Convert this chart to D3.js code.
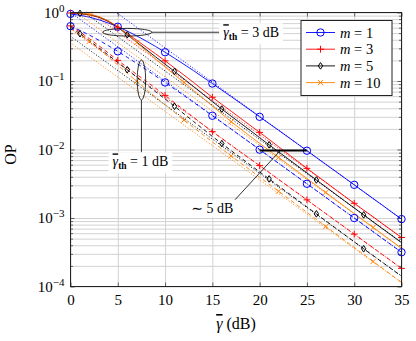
<!DOCTYPE html>
<html>
<head>
<meta charset="utf-8">
<script src="https://cdn.jsdelivr.net/npm/d3@7"></script>
<style>
  body { margin: 0; background: #fff; }
  svg { display: block; }
  text { fill: #000; }
</style>
</head>
<body>
<svg id="chart"></svg>
<script>
const width = 416;
const height = 341;

// average SNR grid (dB)
const snrDb = [0, 1, 2, 3, 4, 5, 6, 7, 8, 9, 10, 11, 12, 13, 14, 15, 16, 17,
    18, 19, 20, 21, 22, 23, 24, 25, 26, 27, 28, 29, 30, 31, 32, 33, 34, 35];

// outage probability, gamma_th = 3 dB (solid)
const opM1Th3 = [0.953, 0.911, 0.854, 0.783, 0.703, 0.619, 0.535, 0.456, 0.383, 0.319,
    0.263, 0.215, 0.175, 0.142, 0.114, 0.0919, 0.0737, 0.0590, 0.0472, 0.0377,
    0.0300, 0.0239, 0.0191, 0.0152, 0.0121, 0.00960, 0.00763, 0.00606, 0.00483, 0.00384,
    0.00305, 0.00242, 0.00192, 0.00153, 0.00121, 0.000964];
const opM3Th3 = [0.982, 0.959, 0.923, 0.851, 0.741, 0.610, 0.493, 0.394, 0.313, 0.249,
    0.197, 0.155, 0.122, 0.0955, 0.0741, 0.0579, 0.0457, 0.0361, 0.0285, 0.0225,
    0.0178, 0.0140, 0.0110, 0.00861, 0.00676, 0.00531, 0.00420, 0.00332, 0.00262, 0.00207,
    0.00164, 0.00130, 0.00104, 0.000822, 0.000653, 0.000519];
const opM5Th3 = [0.989, 0.971, 0.933, 0.861, 0.750, 0.610, 0.473, 0.370, 0.288, 0.225,
    0.176, 0.138, 0.107, 0.0832, 0.0646, 0.0501, 0.0389, 0.0306, 0.0241, 0.0190,
    0.0149, 0.0117, 0.00927, 0.00731, 0.00577, 0.00455, 0.00359, 0.00284, 0.00224, 0.00177,
    0.00140, 0.00111, 0.000877, 0.000695, 0.000551, 0.000437];
const opM10Th3 = [0.991, 0.977, 0.944, 0.871, 0.759, 0.624, 0.484, 0.363, 0.275, 0.209,
    0.160, 0.123, 0.0955, 0.0733, 0.0562, 0.0432, 0.0331, 0.0254, 0.0199, 0.0156,
    0.0123, 0.00971, 0.00767, 0.00605, 0.00479, 0.00378, 0.00298, 0.00236, 0.00186, 0.00147,
    0.00116, 0.000920, 0.000728, 0.000575, 0.000455, 0.000360];

// outage probability, gamma_th = 1 dB (dashed)
const opM1Th1 = [0.632, 0.548, 0.468, 0.394, 0.328, 0.271, 0.222, 0.181, 0.1466, 0.1183,
    0.0952, 0.0764, 0.0612, 0.0489, 0.0390, 0.0311, 0.0248, 0.0198, 0.0157, 0.0125,
    0.00995, 0.00791, 0.00629, 0.00500, 0.00398, 0.00316, 0.00251, 0.00200, 0.00158, 0.00126,
    0.00100, 0.000794, 0.000631, 0.000501, 0.000398, 0.000316];
const opM3Th1 = [0.638, 0.519, 0.414, 0.327, 0.257, 0.200, 0.158, 0.125, 0.0991, 0.0783,
    0.0617, 0.0483, 0.0378, 0.0296, 0.0232, 0.0182, 0.0145, 0.0115, 0.00912, 0.00729,
    0.00582, 0.00462, 0.00367, 0.00292, 0.00232, 0.00184, 0.00146, 0.00116, 0.000923, 0.000733,
    0.000582, 0.000462, 0.000367, 0.000292, 0.000232, 0.000184];
const opM5Th1 = [0.610, 0.490, 0.387, 0.305, 0.239, 0.187, 0.146, 0.114, 0.0893, 0.0698,
    0.0546, 0.0427, 0.0331, 0.0257, 0.0200, 0.0155, 0.0122, 0.00959, 0.00757, 0.00597,
    0.00471, 0.00372, 0.00294, 0.00232, 0.00184, 0.00145, 0.00115, 0.000908, 0.000718, 0.000568,
    0.000449, 0.000355, 0.000282, 0.000224, 0.000178, 0.000141];
const opM10Th1 = [0.589, 0.476, 0.380, 0.292, 0.224, 0.171, 0.130, 0.0989, 0.0759, 0.0583,
    0.0450, 0.0348, 0.0269, 0.0210, 0.0165, 0.0129, 0.0102, 0.00804, 0.00634, 0.00501,
    0.00395, 0.00312, 0.00246, 0.00194, 0.00153, 0.00121, 0.000953, 0.000752, 0.000594, 0.000470,
    0.000372, 0.000294, 0.000232, 0.000184, 0.000145, 0.000115];

// high-SNR asymptotes (dotted), values at 0 dB and 35 dB
const asymDb = [0, 35];
const asymM1Th3 = [3.05, 0.000964];
const asymM3Th3 = [1.64, 0.000519];
const asymM5Th3 = [1.40, 0.000443];
const asymM10Th3 = [1.15, 0.000364];
const asymM1Th1 = [1.00, 0.000316];
const asymM3Th1 = [0.58, 0.000183];
const asymM5Th1 = [0.45, 0.000142];
const asymM10Th1 = [0.36, 0.000114];

const mValues = [1, 3, 5, 10];
const xTicks = [0, 5, 10, 15, 20, 25, 30, 35];
const yDecades = [1, 0.1, 0.01, 0.001, 0.0001];
const yExponents = ["0", "\u22121", "\u22122", "\u22123", "\u22124"];

const styles = [
    {color: "#0000ff", mark: "circle", phase: 0},
    {color: "#ff0000", mark: "plus", phase: 0},
    {color: "#000000", mark: "diamond", phase: 1},
    {color: "#ff8000", mark: "cross", phase: 2}
];
const solidData = [opM1Th3, opM3Th3, opM5Th3, opM10Th3];
const dashedData = [opM1Th1, opM3Th1, opM5Th1, opM10Th1];
const asymSolid = [asymM1Th3, asymM3Th3, asymM5Th3, asymM10Th3];
const asymDashed = [asymM1Th1, asymM3Th1, asymM5Th1, asymM10Th1];

const pLeft = 70.5, pRight = 401.5, pTop = 12.5, pBottom = 286.5;
const serif = "'Liberation Serif', 'DejaVu Serif'";

const x = d3.scaleLinear().domain([0, 35]).range([pLeft, pRight]);
const y = d3.scaleLog().domain([1e-4, 1]).range([pBottom, pTop]);

const svg = d3.select("#chart")
    .attr("width", width)
    .attr("height", height)
    .attr("font-family", serif);

svg.append("defs").append("clipPath").attr("id", "plotClip")
    .append("rect")
    .attr("x", pLeft).attr("y", pTop)
    .attr("width", pRight - pLeft).attr("height", pBottom - pTop);

// grid
svg.append("g")
    .attr("transform", `translate(0,${pBottom})`)
    .call(d3.axisBottom(x).tickValues(xTicks).tickSize(-(pBottom - pTop)).tickFormat(""))
    .call(g => g.select(".domain").remove())
    .selectAll("line").attr("stroke", "#d2d2d2").attr("stroke-width", 1);

svg.append("g")
    .attr("transform", `translate(${pLeft},0)`)
    .call(d3.axisLeft(y).tickValues(y.ticks()).tickSize(-(pRight - pLeft)).tickFormat(""))
    .call(g => g.select(".domain").remove())
    .selectAll("line").attr("stroke", "#d2d2d2").attr("stroke-width", 1);

// small ticks inside the frame
[[d3.axisBottom(x), pBottom], [d3.axisTop(x), pTop]].forEach(([ax, py]) => {
    svg.append("g").attr("transform", `translate(0,${py})`)
        .call(ax.tickValues(xTicks).tickSize(-4).tickFormat(""))
        .call(g => g.select(".domain").remove())
        .selectAll("line").attr("stroke", "#444").attr("stroke-width", 0.8);
});
[[d3.axisLeft(y), pLeft, 1], [d3.axisRight(y), pRight, -1]].forEach(([ax, px, dir]) => {
    svg.append("g").attr("transform", `translate(${px},0)`)
        .call(ax.tickValues(y.ticks()).tickSize(-2.5).tickFormat(""))
        .call(g => g.select(".domain").remove())
        .selectAll("line")
        .attr("stroke", "#444").attr("stroke-width", 0.8)
        .attr("x2", d => dir * (Math.abs(Math.log10(d) - Math.round(Math.log10(d))) < 1e-6 ? 4 : 2.5));
});

// x tick labels
svg.append("g")
    .attr("transform", `translate(0,${pBottom})`)
    .call(d3.axisBottom(x).tickValues(xTicks).tickSize(0).tickPadding(8))
    .attr("font-family", serif)
    .attr("font-size", 15)
    .call(g => g.select(".domain").remove());

// y tick labels 10^k
const yLab = svg.append("g");
yDecades.forEach((v, i) => {
    const t = yLab.append("text")
        .attr("x", pLeft - 6)
        .attr("y", y(v) + 5)
        .attr("text-anchor", "end")
        .attr("font-size", 15);
    t.append("tspan").text("10");
    t.append("tspan").attr("dy", -6).attr("font-size", 11).text(yExponents[i]);
});

// axis titles
const xt = svg.append("text")
    .attr("x", (pLeft + pRight) / 2)
    .attr("y", 329)
    .attr("text-anchor", "middle")
    .attr("font-size", 16);
xt.append("tspan").style("text-decoration", "overline").style("font-style", "italic").text("\u03b3");
xt.append("tspan").text(" (dB)");

svg.append("text")
    .attr("transform", `translate(16,${(pTop + pBottom) / 2 + 5}) rotate(-90)`)
    .attr("text-anchor", "middle")
    .attr("font-size", 16)
    .text("OP");

// curves
const plot = svg.append("g").attr("clip-path", "url(#plotClip)");
const line = d3.line().x(d => x(d[0])).y(d => y(d[1]));

styles.forEach((s, i) => {
    [asymSolid[i], asymDashed[i]].forEach(a => {
        plot.append("path")
            .datum(asymDb.map((d, k) => [d, a[k]]))
            .attr("d", line)
            .attr("fill", "none")
            .attr("stroke", s.color)
            .attr("stroke-width", 0.9)
            .attr("stroke-linecap", "round")
            .attr("stroke-dasharray", "0.3,2.6");
    });
});

function drawMark(g, type, cx, cy, color) {
    if (type === "circle") {
        g.append("circle").attr("cx", cx).attr("cy", cy).attr("r", 3.7)
            .attr("fill", "none").attr("stroke", color).attr("stroke-width", 1);
    } else if (type === "plus") {
        g.append("path").attr("d", `M${cx - 3.4},${cy}h6.8M${cx},${cy - 3.4}v6.8`)
            .attr("stroke", color).attr("stroke-width", 1);
    } else if (type === "diamond") {
        g.append("path").attr("d", `M${cx},${cy - 3.3}L${cx + 2.2},${cy}L${cx},${cy + 3.3}L${cx - 2.2},${cy}Z`)
            .attr("fill", "none").attr("stroke", color).attr("stroke-width", 1);
    } else {
        g.append("path").attr("d", `M${cx - 2.6},${cy - 2.6}l5.2,5.2M${cx - 2.6},${cy + 2.6}l5.2,-5.2`)
            .attr("stroke", color).attr("stroke-width", 1);
    }
}

styles.forEach((s, i) => {
    [[solidData[i], null], [dashedData[i], "4,3"]].forEach(([vals, dash]) => {
        const pts = snrDb.map((d, k) => [d, vals[k]]);
        plot.append("path")
            .datum(pts)
            .attr("d", line)
            .attr("fill", "none")
            .attr("stroke", s.color)
            .attr("stroke-width", 0.9)
            .attr("stroke-dasharray", dash);
        pts.filter((p, k) => (k - s.phase) % 5 === 0 && k >= s.phase)
            .forEach(p => drawMark(svg, s.mark, x(p[0]), y(p[1]), s.color));
    });
});

// frame
svg.append("rect")
    .attr("x", pLeft).attr("y", pTop)
    .attr("width", pRight - pLeft).attr("height", pBottom - pTop)
    .attr("fill", "none").attr("stroke", "#222").attr("stroke-width", 1);

// annotations
const ann = svg.append("g").attr("fill", "none").attr("stroke", "#000").attr("stroke-width", 0.8);

function gammaLabel(cx, cy, value) {
    const t = svg.append("text").attr("x", cx).attr("y", cy + 5)
        .attr("text-anchor", "middle").attr("font-size", 14);
    t.append("tspan").style("text-decoration", "overline").style("font-style", "italic").text("\u03b3");
    t.append("tspan").attr("dy", 3).attr("font-size", 9.5).attr("font-weight", "bold").text("th");
    t.append("tspan").attr("dy", -3).text(` = ${value} dB`);
    const bb = t.node().getBBox();
    svg.insert("rect", () => t.node())
        .attr("x", bb.x - 4).attr("y", bb.y - 2)
        .attr("width", bb.width + 8).attr("height", bb.height + 4)
        .attr("fill", "#fff");
    return bb;
}

// gamma_th = 3 dB: ellipse on the solid curves
const e1 = {x: 6, op: 0.515};
ann.append("ellipse")
    .attr("cx", x(e1.x)).attr("cy", y(e1.op))
    .attr("rx", x(e1.x + 2.6) - x(e1.x)).attr("ry", 3.8);
const b1 = gammaLabel(x(19.1), y(e1.op), 3);
ann.append("line")
    .attr("x1", x(e1.x + 2.6)).attr("y1", y(e1.op))
    .attr("x2", b1.x - 4).attr("y2", y(e1.op));

// gamma_th = 1 dB: ellipse on the dashed curves
const e2 = {x: 7.5, op: 0.1035};
ann.append("ellipse")
    .attr("cx", x(e2.x)).attr("cy", y(e2.op))
    .attr("rx", x(e2.x + 0.45) - x(e2.x)).attr("ry", 20);
const b2 = gammaLabel(x(7.4), y(0.0067), 1);
ann.append("line")
    .attr("x1", x(e2.x)).attr("y1", y(e2.op) + 20)
    .attr("x2", x(e2.x)).attr("y2", b2.y - 2);

// ~5 dB gap
ann.append("line")
    .attr("x1", x(20)).attr("y1", y(0.0097))
    .attr("x2", x(25)).attr("y2", y(0.0097))
    .attr("stroke-width", 2);
ann.append("line")
    .attr("x1", x(17.4)).attr("y1", y(0.00185))
    .attr("x2", x(22.2)).attr("y2", y(0.0097));
const gapText = svg.append("text")
    .attr("x", x(15)).attr("y", y(0.00138) + 5)
    .attr("text-anchor", "middle").attr("font-size", 14)
    .text("\u223c 5 dB");
const gb = gapText.node().getBBox();
svg.insert("rect", () => gapText.node())
    .attr("x", gb.x - 3).attr("y", gb.y - 1).attr("width", gb.width + 6).attr("height", gb.height + 2)
    .attr("fill", "#fff");

// legend
const lg = svg.append("g");
lg.append("rect")
    .attr("x", 301).attr("y", 20.5).attr("width", 91).attr("height", 75)
    .attr("fill", "#fff").attr("stroke", "#222").attr("stroke-width", 1);
styles.forEach((s, i) => {
    const ly = 32.5 + i * 16.7;
    lg.append("line")
        .attr("x1", 306).attr("x2", 335).attr("y1", ly).attr("y2", ly)
        .attr("stroke", s.color).attr("stroke-width", 0.9);
    drawMark(lg, s.mark, 320.5, ly, s.color);
    const t = lg.append("text").attr("x", 340).attr("y", ly + 5).attr("font-size", 14.5);
    t.append("tspan").style("font-style", "italic").text("m");
    t.append("tspan").text(` = ${mValues[i]}`);
});
</script>
</body>
</html>
